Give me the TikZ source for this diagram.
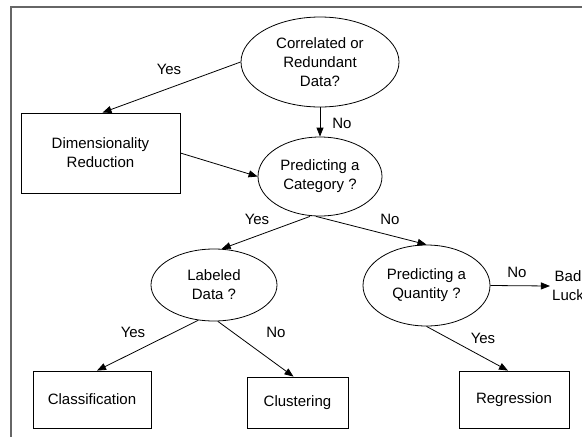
\documentclass[tikz,border=0pt]{standalone}
\usepackage{fontspec}
\setmainfont{Liberation Sans}
\usetikzlibrary{arrows.meta,shapes.geometric}
\begin{document}
\begin{tikzpicture}[x=1pt,y=-1pt,
  every node/.style={font=\fontsize{15}{19}\selectfont, align=center},
  ell/.style={draw, ellipse, line width=0.8pt, inner sep=0pt},
  box/.style={draw, rectangle, line width=0.8pt, inner sep=0pt},
  conn/.style={line width=0.8pt, -{Triangle[length=9pt,width=7pt]}},
  lbl/.style={inner sep=0pt}]
\useasboundingbox (0,0) rectangle (582,437);
\draw[black!60, line width=1.5pt] (11,437) -- (11,7) -- (582,7);

\node[ell, minimum width=158pt, minimum height=90pt] (c1) at (320,62) {Correlated or\\Redundant\\Data?};
\node[ell, minimum width=124pt, minimum height=79pt] (c2) at (320,176.5) {Predicting a\\Category ?};
\node[ell, minimum width=126pt, minimum height=72pt] (ld) at (214,285) {Labeled\\Data ?};
\node[ell, minimum width=127pt, minimum height=81pt] (pq) at (426.5,285.5) {Predicting a\\Quantity ?};

\node[box, minimum width=159pt, minimum height=80pt] (dr) at (100.5,153) {Dimensionality\\Reduction};
\node[box, minimum width=118pt, minimum height=57pt] (cls) at (92,399.5) {Classification};
\node[box, minimum width=101pt, minimum height=51pt] (clu) at (297.5,402.5) {Clustering};
\node[box, minimum width=110pt, minimum height=57pt] (reg) at (514,399.5) {Regression};
\node[inner sep=2pt] (bl) at (568,286) {Bad\\Luck};

\draw[conn] (c1.west) -- ([xshift=2pt]dr.north);
\draw[conn] (c1.south) -- (c2.north);
\draw[conn] (dr.east) -- (c2.west);
\draw[conn] ([xshift=-10pt]c2.south) -- (ld.78);
\draw[conn] ([xshift=-4pt]c2.south) -- (pq.north);
\draw[conn] (ld.246) -- ([xshift=5pt]cls.north);
\draw[conn] (ld.276) -- ([xshift=-4pt]clu.north);
\draw[conn] (pq.south) -- ([xshift=-6pt]reg.north);
\draw[conn] (pq.east) -- (bl.west);

\node[lbl] (l1) at (169,69) {Yes};
\node[lbl] (l2) at (342,123) {No};
\node[lbl] (l3) at (257,219) {Yes};
\node[lbl] (l4) at (390,219) {No};
\node[lbl] (l5) at (517,272) {No};
\node[lbl] (l6) at (133,332) {Yes};
\node[lbl] (l7) at (276,332) {No};
\node[lbl] (l8) at (483,338) {Yes};
\end{tikzpicture}
\end{document}
